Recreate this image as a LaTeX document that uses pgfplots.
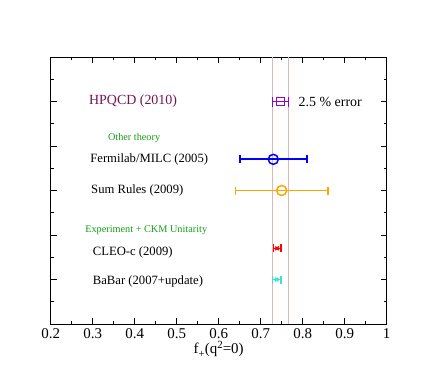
\documentclass[border=0pt]{standalone}
\usepackage{pgfplots}
\pgfplotsset{compat=1.18}
\usepackage{fontspec}
\setmainfont{Liberation Serif}
\definecolor{hpqcdtext}{RGB}{112,22,84}
\definecolor{hpurple}{RGB}{148,0,211}
\definecolor{hblue}{RGB}{0,0,255}
\definecolor{horange}{RGB}{255,165,0}
\definecolor{hred}{RGB}{255,0,0}
\definecolor{hcyan}{RGB}{64,224,208}
\definecolor{hgreen}{RGB}{20,160,20}
\definecolor{hpink}{RGB}{220,185,185}
\begin{document}
\begin{tikzpicture}[x=1bp,y=1bp]
\path[use as bounding box] (0,0) rectangle (436,382);
\begin{axis}[
  at={(50.7bp,58bp)}, anchor=south west,
  scale only axis, width=336bp, height=267bp,
  xmin=0.2, xmax=1, ymin=0, ymax=6,
  xtick={0.2,0.3,0.4,0.5,0.6,0.7,0.8,0.9,1},
  minor x tick num=1,
  ytick={0,1,2,3,4,5,6}, yticklabels={}, minor y tick num=1,
  tick align=inside, major tick length=6bp, minor tick length=3bp,
  xtick pos=both, ytick pos=both,
  axis line style={line width=0.8bp},
  tick style={line width=0.8bp, black},
  /pgf/number format/assume math mode=true,
  xticklabel style={font=\fontsize{15}{18}\selectfont, /pgf/number format/fixed, /pgf/number format/precision=1, yshift=-1bp},
  xlabel={f\raisebox{-0.55ex}{\fontsize{11}{12}\selectfont +}(q\raisebox{0.75ex}{\fontsize{11}{12}\selectfont 2}=0)},
  xlabel style={font=\fontsize{15}{18}\selectfont, yshift=4bp},
  clip=false,
]
\addplot[hpink, line width=0.9bp] coordinates {(0.728,0) (0.728,6)};
\addplot[hpink, line width=0.9bp] coordinates {(0.766,0) (0.766,6)};
% HPQCD
\addplot[hpurple, only marks, mark=square, mark size=4bp, line width=1.5bp,
  error bars/.cd, x dir=both, x explicit, error mark=|,
  error bar style={hpurple, line width=1.8bp},
  error mark options={hpurple, mark size=5bp, line width=1.8bp}]
  coordinates {(0.747,5) +- (0.019,0)};
% Fermilab/MILC
\addplot[hblue, only marks, mark=o, mark size=5bp, line width=1.5bp,
  error bars/.cd, x dir=both, x explicit, error mark=|,
  error bar style={hblue, line width=1.8bp},
  error mark options={hblue, mark size=4bp, line width=1.8bp}]
  coordinates {(0.73,3.7) +- (0.08,0)};
% Sum rules
\addplot[horange, only marks, mark=o, mark size=5bp, line width=1.5bp,
  error bars/.cd, x dir=both, x explicit, error mark=|,
  error bar style={horange, line width=1.8bp},
  error mark options={horange, mark size=4bp, line width=1.8bp}]
  coordinates {(0.75,3.0) +- (0.11,0)};
% CLEO-c
\addplot[hred, only marks, mark=x, mark size=2.5bp, line width=1.4bp,
  error bars/.cd, x dir=both, x explicit, error mark=|,
  error bar style={hred, line width=1.6bp},
  error mark options={hred, mark size=4bp, line width=1.6bp}]
  coordinates {(0.739,1.7) +- (0.009,0)};
% BaBar
\addplot[hcyan, only marks, mark=x, mark size=2.5bp, line width=1.4bp,
  error bars/.cd, x dir=both, x explicit, error mark=|,
  error bar style={hcyan, line width=1.6bp},
  error mark options={hcyan, mark size=4bp, line width=1.6bp}]
  coordinates {(0.738,1.0) +- (0.010,0)};
\node[anchor=west, inner sep=0, text=hpqcdtext, font=\fontsize{14}{16}\selectfont] at (axis cs:0.291,5.0) {HPQCD (2010)};
\node[anchor=west, inner sep=0, text=hgreen, font=\fontsize{10.3}{12}\selectfont] at (axis cs:0.336,4.18) {Other theory};
\node[anchor=west, inner sep=0, font=\fontsize{12.7}{15}\selectfont] at (axis cs:0.294,3.69) {Fermilab/MILC (2005)};
\node[anchor=west, inner sep=0, font=\fontsize{12.7}{15}\selectfont] at (axis cs:0.296,3.0) {Sum Rules (2009)};
\node[anchor=west, inner sep=0, text=hgreen, font=\fontsize{10.3}{12}\selectfont] at (axis cs:0.282,2.11) {Experiment + CKM Unitarity};
\node[anchor=west, inner sep=0, font=\fontsize{12.7}{15}\selectfont] at (axis cs:0.300,1.60) {CLEO-c (2009)};
\node[anchor=west, inner sep=0, font=\fontsize{12.7}{15}\selectfont] at (axis cs:0.300,0.95) {BaBar (2007+update)};
\node[anchor=west, inner sep=0, font=\fontsize{14}{16}\selectfont] at (axis cs:0.790,5.0) {2.5 \% error};
\end{axis}
\end{tikzpicture}
\end{document}
